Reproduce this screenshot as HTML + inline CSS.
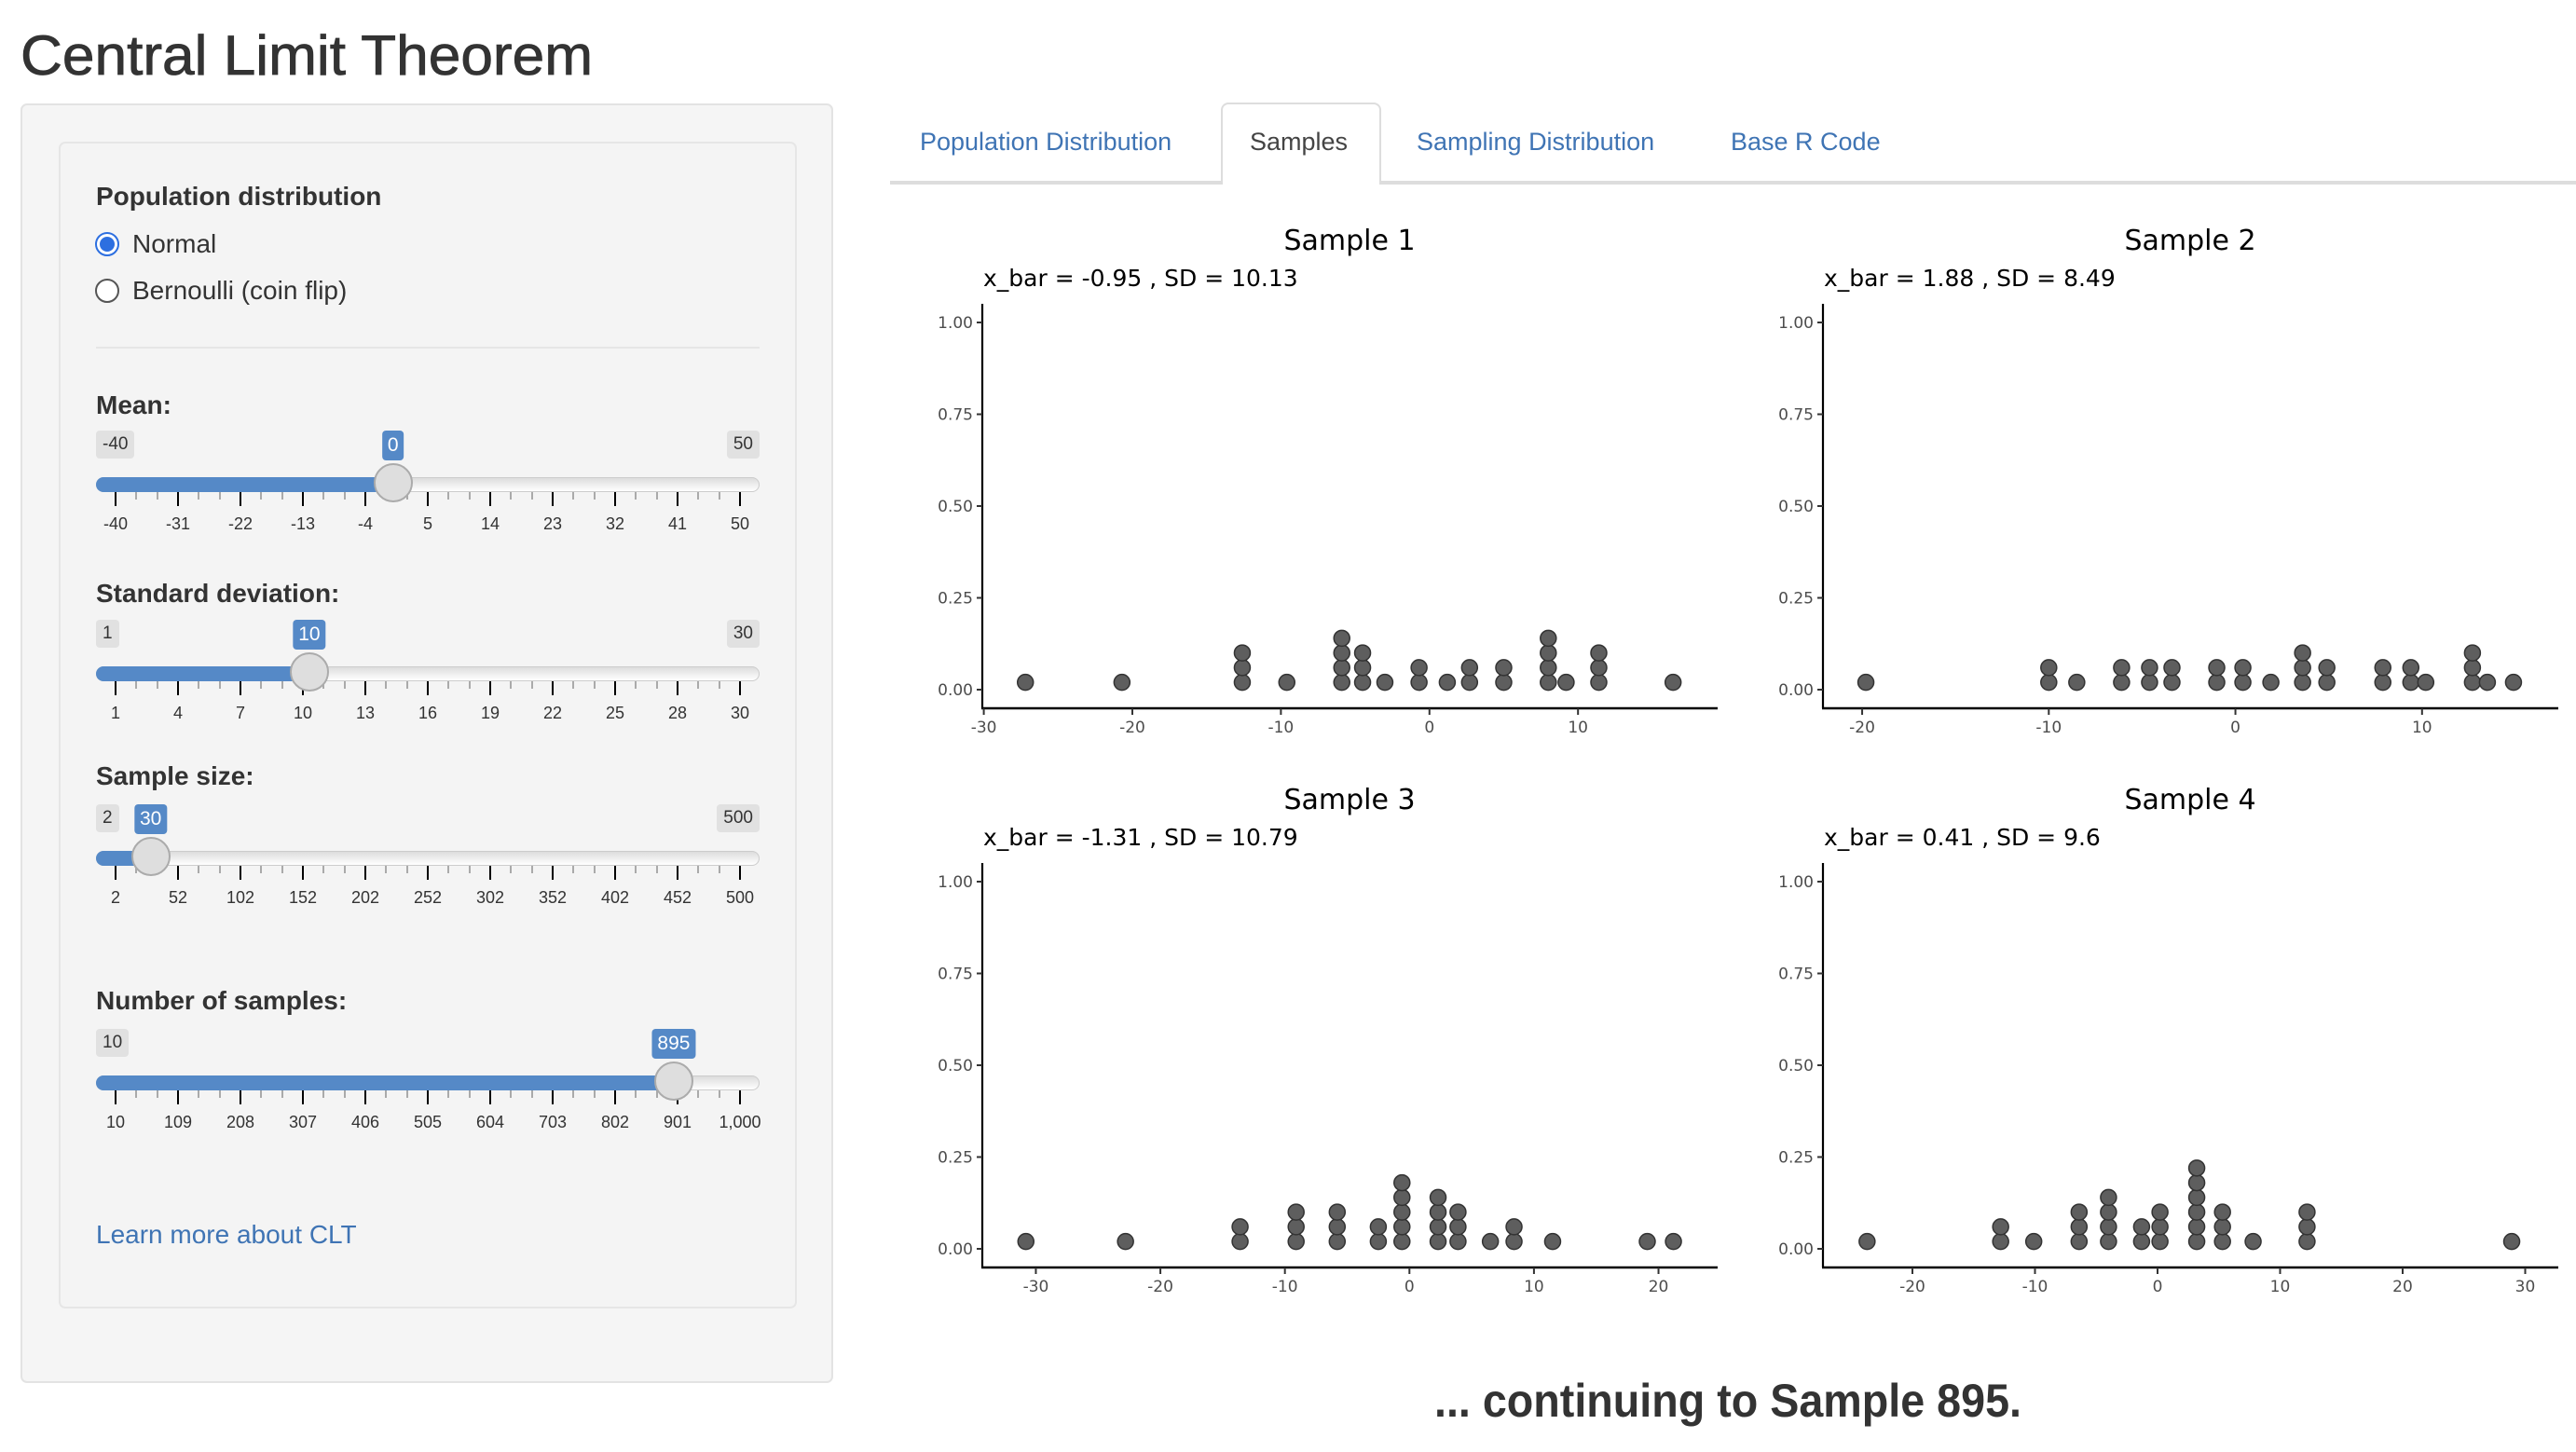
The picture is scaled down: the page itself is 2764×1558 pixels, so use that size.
<!DOCTYPE html>
<html><head><meta charset="utf-8">
<style>
body{margin:0;width:2764px;height:1558px;background:#fff;position:relative;overflow:hidden;font-family:"Liberation Sans",Arial,sans-serif;color:#333}
.abs{position:absolute}
.well{left:22px;top:111px;width:872px;height:1373px;background:#f5f5f5;border:2px solid #e3e3e3;border-radius:7px;box-sizing:border-box}
.inner{left:63px;top:152px;width:792px;height:1252px;background:#f4f4f4;border:2px solid #e6e6e6;border-radius:7px;box-sizing:border-box}
.lbl{font-weight:bold;font-size:28px;left:103px;line-height:32px}
.radio-t{font-size:28px;left:142px;line-height:32px}
.tab{font-size:27px;line-height:32px;top:136px;color:#3f74b4}
</style></head>
<body>
<svg class="abs" style="left:0;top:0" width="2764" height="110">
<text x="22" y="80" font-family="Liberation Sans, Arial, sans-serif" font-size="60" fill="#333" textLength="614" lengthAdjust="spacingAndGlyphs" stroke="#333" stroke-width="0.8">Central Limit Theorem</text>
</svg>
<div class="abs well"></div>
<div class="abs inner"></div>
<div class="abs lbl" style="top:195px">Population distribution</div>
<div class="abs" style="left:102px;top:249px;width:22px;height:22px;border-radius:50%;border:2px solid #2d6fe0;background:#fff"><div style="position:absolute;left:3px;top:3px;width:16px;height:16px;border-radius:50%;background:#2d6fe0"></div></div>
<div class="abs radio-t" style="top:246px">Normal</div>
<div class="abs" style="left:102px;top:299px;width:22px;height:22px;border-radius:50%;border:2px solid #555;background:#fff"></div>
<div class="abs radio-t" style="top:296px">Bernoulli (coin flip)</div>
<div class="abs" style="left:103px;top:372px;width:712px;height:2px;background:#e6e6e6"></div>
<div class="abs lbl" style="top:419px">Mean:</div>
<div class="abs lbl" style="top:621px">Standard deviation:</div>
<div class="abs lbl" style="top:817px">Sample size:</div>
<div class="abs lbl" style="top:1058px">Number of samples:</div>
<div class="abs" style="left:103px;top:1309px;font-size:28px;line-height:32px;color:#3f74b4">Learn more about CLT</div>
<div id="sliders"></div>

<div class="abs" style="left:955px;top:194px;width:1809px;height:4px;background:#ddd"></div>
<div class="abs" style="left:1310px;top:110px;width:172px;height:88px;background:#fff;border:2px solid #ddd;border-bottom:none;border-radius:8px 8px 0 0;box-sizing:border-box"></div>
<div class="abs tab" style="left:987px">Population Distribution</div>
<div class="abs tab" style="left:1341px;color:#444">Samples</div>
<div class="abs tab" style="left:1520px">Sampling Distribution</div>
<div class="abs tab" style="left:1857px">Base R Code</div>

<svg id="charts" class="abs" style="left:0;top:0" width="2764" height="1558">
<text x="1854" y="1520" text-anchor="middle" font-family="Liberation Sans, Arial, sans-serif" font-weight="bold" font-size="50" fill="#333" textLength="630" lengthAdjust="spacingAndGlyphs">... continuing to Sample 895.</text>
</svg>

<script>
// ---- Chart data ----
const sampleTitles = ["Sample 1", "Sample 2", "Sample 3", "Sample 4"];
const sampleSubtitles = ["x_bar = -0.95 , SD = 10.13", "x_bar = 1.88 , SD = 8.49", "x_bar = -1.31 , SD = 10.79", "x_bar = 0.41 , SD = 9.6"];
const s1Values = [-27.2, -20.7, -12.6, -9.6, -5.9, -4.5, -3.0, -0.7, 1.2, 2.7, 5.0, 8.0, 9.2, 11.4, 16.4];
const s1Counts = [1, 1, 3, 1, 4, 3, 1, 2, 1, 2, 2, 4, 1, 3, 1];
const s2Values = [-19.8, -10.0, -8.5, -6.1, -4.6, -3.4, -1.0, 0.4, 1.9, 3.6, 4.9, 7.9, 9.4, 10.2, 12.7, 13.5, 14.9];
const s2Counts = [1, 2, 1, 2, 2, 2, 2, 2, 1, 3, 2, 2, 2, 1, 3, 1, 1];
const s3Values = [-30.8, -22.8, -13.6, -9.1, -5.8, -2.5, -0.6, 2.3, 3.9, 6.5, 8.4, 11.5, 19.1, 21.2];
const s3Counts = [1, 1, 2, 3, 3, 2, 5, 4, 3, 1, 2, 1, 1, 1];
const s4Values = [-23.7, -12.8, -10.1, -6.4, -4.0, -1.3, 0.2, 3.2, 5.3, 7.8, 12.2, 28.9];
const s4Counts = [1, 2, 1, 3, 4, 2, 3, 6, 3, 1, 3, 1];
const s1Ticks = [-30, -20, -10, 0, 10];
const s2Ticks = [-20, -10, 0, 10];
const s3Ticks = [-30, -20, -10, 0, 10, 20];
const s4Ticks = [-20, -10, 0, 10, 20, 30];
const xDomains = [[-30.1, 19.4], [-22.1, 17.3], [-34.3, 24.75], [-27.3, 32.7]];
const yTicks = [0, 0.25, 0.5, 0.75, 1];
const yTickLabels = ["0.00", "0.25", "0.50", "0.75", "1.00"];
const stackStep = 0.04;

const NS = "http://www.w3.org/2000/svg";
const svg = document.getElementById("charts");
function mk(tag, attrs, parent){const e=document.createElementNS(NS,tag);for(const k in attrs)e.setAttribute(k,attrs[k]);(parent||svg).appendChild(e);return e;}
const panels = [
  {ax:1054, y0:740, vals:s1Values, cnts:s1Counts, ticks:s1Ticks},
  {ax:1956, y0:740, vals:s2Values, cnts:s2Counts, ticks:s2Ticks},
  {ax:1054, y0:1340, vals:s3Values, cnts:s3Counts, ticks:s3Ticks},
  {ax:1956, y0:1340, vals:s4Values, cnts:s4Counts, ticks:s4Ticks}
];
const PW = 789, PXPERY = 394;
panels.forEach((p, i) => {
  const [d0, d1] = xDomains[i];
  const xs = v => p.ax + (v - d0) / (d1 - d0) * PW;
  const ys = v => p.y0 - v * PXPERY;
  const g = mk("g", {});
  
  
  const t = mk("text", {x: p.ax + 394, y: p.y0 - 472, "text-anchor":"middle", "font-family":"DejaVu Sans, sans-serif", "font-size":"30", fill:"#000"}, g);
  t.textContent = sampleTitles[i];
  
  
  const st = mk("text", {x: p.ax + 1, y: p.y0 - 433, "font-family":"DejaVu Sans, sans-serif", "font-size":"25", fill:"#000"}, g);
  st.textContent = sampleSubtitles[i];
  
  
  const yl = mk("line", {x1:p.ax, x2:p.ax, y1:p.y0-414, y2:p.y0+20, stroke:"#000", "stroke-width":"2.2"}, g);
  
  
  yTicks.forEach((v, k) => {
    const tk = mk("line", {x1:p.ax-6, x2:p.ax, y1:ys(v), y2:ys(v), stroke:"#333", "stroke-width":"2"}, g);
    
    
    const tl = mk("text", {x:p.ax-10, y:ys(v)+6, "text-anchor":"end", "font-family":"DejaVu Sans, sans-serif", "font-size":"17", fill:"#4d4d4d"}, g);
    tl.textContent = yTickLabels[k];
    
    
  });
  const xl = mk("line", {x1:p.ax-1, x2:p.ax+PW, y1:p.y0+20, y2:p.y0+20, stroke:"#000", "stroke-width":"2.5"}, g);
  
  
  p.ticks.forEach(v => {
    const tk = mk("line", {x1:xs(v), x2:xs(v), y1:p.y0+20, y2:p.y0+27, stroke:"#333", "stroke-width":"2"}, g);
    
    
    const tl = mk("text", {x:xs(v), y:p.y0+46, "text-anchor":"middle", "font-family":"DejaVu Sans, sans-serif", "font-size":"17", fill:"#4d4d4d"}, g);
    tl.textContent = String(v);
    
    
  });
  p.vals.forEach((v, j) => {
    for (let k = 0; k < p.cnts[j]; k++) {
      const c = mk("circle", {cx:xs(v), cy:ys(stackStep/2 + k*stackStep), r:8.5, fill:"#5e5e5e", stroke:"#333", "stroke-width":"1.5"}, g);
      
      
    }
  });
});

// ---- Sliders ----
const sliderMins = [-40, 1, 2, 10];
const sliderMaxs = [50, 30, 500, 1000];
const sliderVals = [0, 10, 30, 895];
const sliderShowMax = [true, true, true, false];
const sliderTickLabels = [
  ["-40","-31","-22","-13","-4","5","14","23","32","41","50"],
  ["1","4","7","10","13","16","19","22","25","28","30"],
  ["2","52","102","152","202","252","302","352","402","452","500"],
  ["10","109","208","307","406","505","604","703","802","901","1,000"]
];
const sliderTracksY = [520, 723, 921, 1162];
const sliderNames = ["mean", "sd", "sample-size", "number-of-samples"];
const host = document.getElementById("sliders");
function div(style, parent){const d=document.createElement("div");d.className="abs";d.style.cssText=style;(parent||host).appendChild(d);return d;}
const G0 = 124, GW = 670;
sliderVals.forEach((val, i) => {
  const ty = sliderTracksY[i];
  const frac = (val - sliderMins[i]) / (sliderMaxs[i] - sliderMins[i]);
  const hx = G0 + frac * GW;
  const track = div(`left:103px;top:${ty-8}px;width:712px;height:16px;border-radius:8px;border:1px solid #ccc;box-sizing:border-box;background:linear-gradient(#ddd,#fff)`);
  
  
  const bar = div(`left:103px;top:${ty-8}px;width:${hx-103}px;height:16px;border-radius:8px 0 0 8px;background:#5589c7`);
  
  
  const labs = sliderTickLabels[i];
  for (let k = 0; k <= 30; k++) {
    const x = G0 + k * GW / 30;
    const major = k % 3 === 0;
    const tk = div(`left:${x-1}px;top:${ty+8}px;width:2px;height:${major?15:8}px;background:${major?'#000':'#aaa'}`);
    
    
  }
  labs.forEach((l, k) => {
    const x = G0 + k * GW / 10;
    const tl = div(`left:${x-40}px;top:${ty+31}px;width:80px;text-align:center;font-size:18px;line-height:22px;color:#333`);
    tl.textContent = l;
    
    
  });
  const mn = div(`left:103px;top:${ty-58}px;padding:0 7px;height:30px;line-height:30px;font-size:19px;background:#e1e1e1;border-radius:4px;color:#333`);
  mn.textContent = String(sliderMins[i]);
  
  
  if (sliderShowMax[i]) {
    const mx = div(`right:${2764-815}px;top:${ty-58}px;padding:0 7px;height:30px;line-height:30px;font-size:19px;background:#e1e1e1;border-radius:4px;color:#333`);
    mx.textContent = String(sliderMaxs[i]);
    
    
  }
  const vb = div(`left:${hx}px;top:${ty-58}px;transform:translateX(-50%);padding:0 6px;height:32px;line-height:32px;font-size:21px;background:#5589c7;border-radius:4px;color:#fff`);
  vb.textContent = String(val);
  
  
  const h = div(`left:${hx-21}px;top:${ty-23}px;width:42px;height:42px;border-radius:50%;background:#dedede;border:2px solid #ababab;box-sizing:border-box`);
  
  
});
</script>
</body></html>
